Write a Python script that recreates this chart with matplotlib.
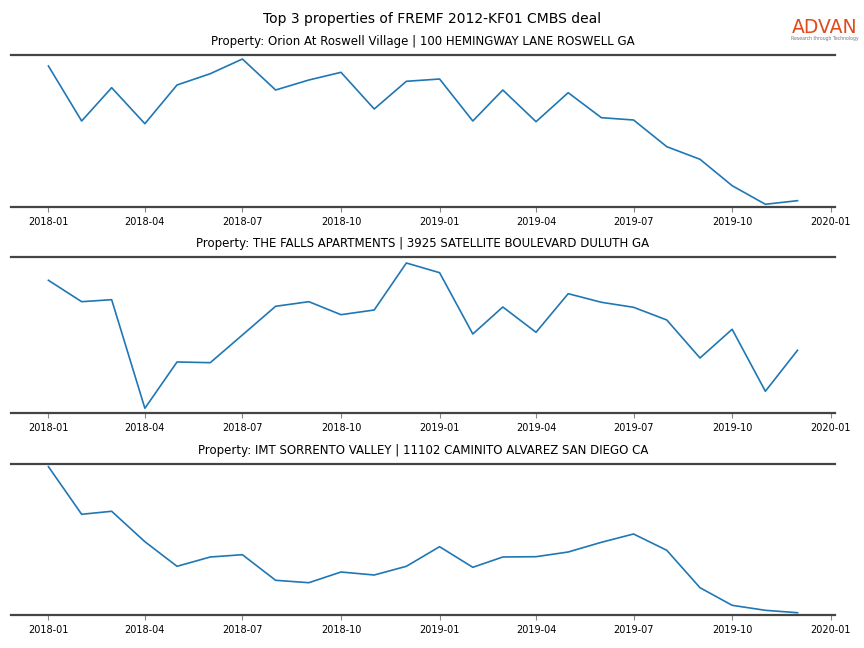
import matplotlib
matplotlib.use("Agg")
import matplotlib.pyplot as plt
import matplotlib.dates as mdates
import pandas as pd

months = pd.date_range("2018-01-01", "2019-12-01", freq="MS")

titles = [
    "Property: Orion At Roswell Village | 100 HEMINGWAY LANE ROSWELL GA",
    "Property: THE FALLS APARTMENTS | 3925 SATELLITE BOULEVARD DULUTH GA",
    "Property: IMT SORRENTO VALLEY | 11102 CAMINITO ALVAREZ SAN DIEGO CA",
]

orion = [141, 86, 119.3, 83.3, 122, 133.3, 148, 117, 127, 134.7, 98, 125.7,
         128, 86, 117, 85.3, 114.3, 89.3, 87, 60.3, 47.7, 21.3, 2.7, 6.3]
falls = [132.7, 111.3, 113.3, 4.7, 51, 50.3, 78, 106.7, 111.3, 98.3, 103, 150,
         140.3, 79, 106, 80.7, 119.3, 110.7, 105.7, 93, 55, 83.7, 21.7, 62.7]
sorrento = [148.3, 100.7, 103.7, 73.3, 48.7, 58, 60.3, 34.7, 32.3, 43, 40, 48.7,
            68.3, 47.7, 58, 58.3, 63, 72.7, 81, 64.7, 27.3, 9.7, 4.7, 2.3]

series = [orion, falls, sorrento]
y_tops = [152, 156, 151]

fig = plt.figure(figsize=(8.64, 6.48), dpi=100)
positions = [
    (0.0127, 0.6806, 0.9537, 0.2345),
    (0.0127, 0.3627, 0.9537, 0.2407),
    (0.0127, 0.0509, 0.9537, 0.2331),
]

for pos, title, vals, ytop in zip(positions, titles, series, y_tops):
    ax = fig.add_axes(pos)
    ax.plot(months, vals, color="#1f77b4", linewidth=1.2)
    ax.set_title(title, fontsize=8.5, pad=7)
    for s in ["left", "right"]:
        ax.spines[s].set_visible(False)
    for s in ["top", "bottom"]:
        ax.spines[s].set_color("#444444")
        ax.spines[s].set_linewidth(1.6)
    ax.set_yticks([])
    ax.xaxis.set_major_locator(mdates.MonthLocator(bymonth=[1, 4, 7, 10]))
    ax.xaxis.set_major_formatter(mdates.DateFormatter("%Y-%m"))
    ax.tick_params(axis="x", labelsize=7, color="#888888", length=3.5, width=0.8)
    ax.margins(x=0.05)
    ax.set_ylim(0, ytop)

fig.suptitle("Top 3 properties of FREMF 2012-KF01 CMBS deal", fontsize=10, y=0.982)

fig.text(0.955, 0.958, "ADVAN", color="#e04a1d", fontsize=13.5,
         ha="center", va="center")
fig.text(0.955, 0.941, "Research through Technology", color="#777777", fontsize=3.3,
         ha="center", va="center")

fig.savefig("out.png", dpi=100)
